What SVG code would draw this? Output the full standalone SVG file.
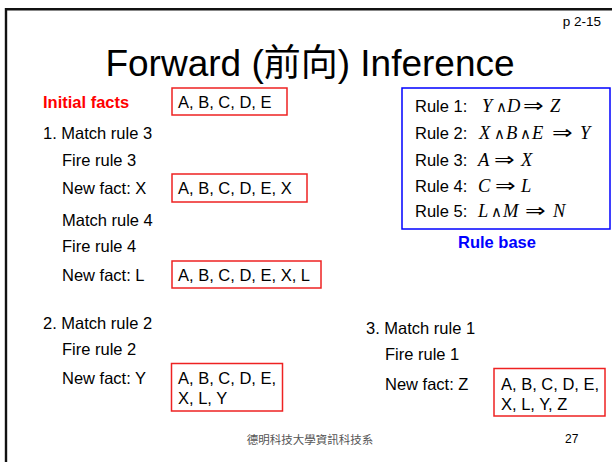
<svg xmlns="http://www.w3.org/2000/svg" width="612" height="462" viewBox="0 0 612 462">
<style>
  .t { font-family: "Liberation Sans", Arial, sans-serif; font-size: 16.5px; fill: #000; }
  .b { font-weight: bold; }
  .fact { fill: #fff; stroke: #ee2222; stroke-width: 1.5; }
  .m { font-family: "Liberation Serif", "Times New Roman", serif; font-style: italic; font-size: 18.5px; fill: #000; }
  .op { font-family: "DejaVu Sans", sans-serif; font-size: 15px; fill: #000; }
  .ar { font-family: "DejaVu Sans", sans-serif; font-size: 19px; fill: #000; }
</style>
<rect x="0" y="0" width="612" height="462" fill="#fff"/>
<path d="M 6 462 L 6 9.2 L 612 9.2" fill="none" stroke="#111" stroke-width="2.4"/>

<g id="header">
  <text class="t" x="601" y="26" text-anchor="end" style="font-size:13.5px">p 2-15</text>
  <text x="310" y="76" text-anchor="middle" font-family="'Liberation Sans', 'Noto Sans CJK TC', sans-serif" font-size="37">Forward (前向) Inference</text>
</g>

<g id="initial">
  <text class="t b" x="43" y="108" style="fill:#ff0000">Initial facts</text>
  <rect class="fact" x="172" y="88" width="115" height="27"/>
  <text class="t" x="178" y="108">A, B, C, D, E</text>
</g>

<g id="step1">
  <text class="t" x="43" y="139">1. Match rule 3</text>
  <text class="t" x="62" y="166">Fire rule 3</text>
  <text class="t" x="62" y="194">New fact: X</text>
  <rect class="fact" x="172" y="174" width="135" height="28"/>
  <text class="t" x="178" y="194">A, B, C, D, E, X</text>
  <text class="t" x="62" y="226">Match rule 4</text>
  <text class="t" x="62" y="252">Fire rule 4</text>
  <text class="t" x="62" y="281">New fact: L</text>
  <rect class="fact" x="172" y="261" width="149" height="27"/>
  <text class="t" x="178" y="281">A, B, C, D, E, X, L</text>
</g>

<g id="step2">
  <text class="t" x="43" y="329">2. Match rule 2</text>
  <text class="t" x="62" y="355">Fire rule 2</text>
  <text class="t" x="62" y="384">New fact: Y</text>
  <rect class="fact" x="171.5" y="363.5" width="111" height="47.5"/>
  <text class="t" x="178" y="384">A, B, C, D, E,</text>
  <text class="t" x="178" y="403.5">X, L, Y</text>
</g>

<g id="step3">
  <text class="t" x="366" y="333.5">3. Match rule 1</text>
  <text class="t" x="385" y="360">Fire rule 1</text>
  <text class="t" x="385" y="389.5">New fact: Z</text>
  <rect class="fact" x="494" y="368.5" width="111" height="47.5"/>
  <text class="t" x="501" y="389.5">A, B, C, D, E,</text>
  <text class="t" x="501" y="409.5">X, L, Y, Z</text>
</g>

<g id="rulebase">
  <rect x="402" y="88" width="208" height="141" fill="#fff" stroke="#0000ff" stroke-width="1.5"/>
  <text class="t" x="415" y="111.5">Rule 1:</text>
  <text class="m" x="482" y="111.5">Y</text><text class="op" x="496" y="111.5">∧</text><text class="m" x="507" y="111.5">D</text><text class="ar" transform="translate(523,111.5) scale(1.3,1)">⇒</text><text class="m" x="550" y="111.5">Z</text>

  <text class="t" x="415" y="139">Rule 2:</text>
  <text class="m" x="479" y="139">X</text><text class="op" x="494" y="139">∧</text><text class="m" x="506" y="139">B</text><text class="op" x="520" y="139">∧</text><text class="m" x="532" y="139">E</text><text class="ar" transform="translate(552,139) scale(1.3,1)">⇒</text><text class="m" x="580" y="139">Y</text>

  <text class="t" x="415" y="166">Rule 3:</text>
  <text class="m" x="478" y="166">A</text><text class="ar" transform="translate(494,166) scale(1.3,1)">⇒</text><text class="m" x="521" y="166">X</text>

  <text class="t" x="415" y="191.5">Rule 4:</text>
  <text class="m" x="478" y="191.5">C</text><text class="ar" transform="translate(495,191.5) scale(1.3,1)">⇒</text><text class="m" x="521" y="191.5">L</text>

  <text class="t" x="415" y="217">Rule 5:</text>
  <text class="m" x="478" y="217">L</text><text class="op" x="491" y="217">∧</text><text class="m" x="503" y="217">M</text><text class="ar" transform="translate(525,217) scale(1.3,1)">⇒</text><text class="m" x="553" y="217">N</text>

  <text class="t b" x="497" y="248" text-anchor="middle" style="fill:#0000ff">Rule base</text>
</g>

<g id="footer">
  <text x="310" y="444" text-anchor="middle" font-family="'Noto Sans CJK TC', sans-serif" font-size="11.5" fill="#555">德明科技大學資訊科技系</text>
  <text x="565" y="443" font-family="'Liberation Sans', Arial, sans-serif" font-size="12" fill="#000">27</text>
</g>
</svg>
